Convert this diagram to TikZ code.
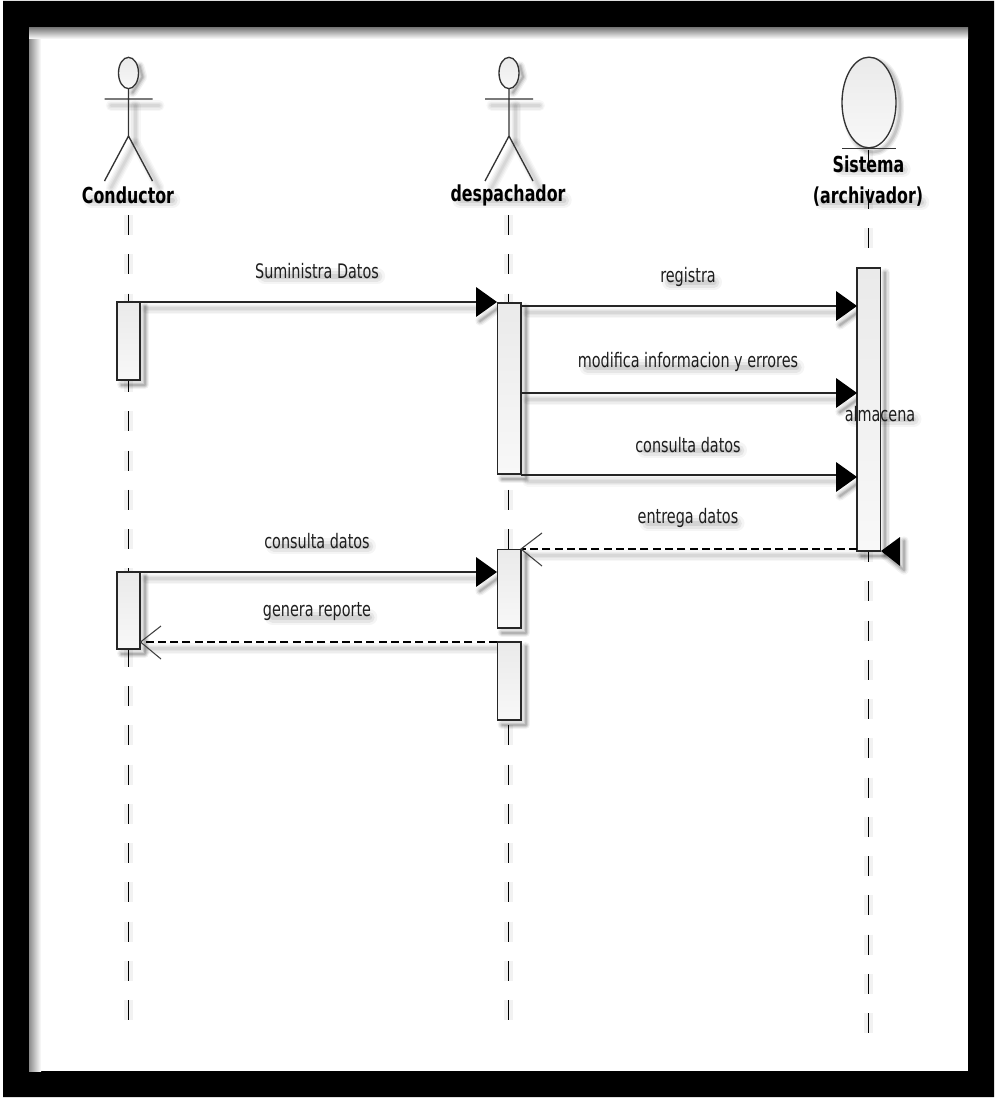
\documentclass[tikz,border=0pt]{standalone}
\usepackage{fontspec}
\usetikzlibrary{backgrounds,calc,shapes.geometric}
\newfontfamily\lbfont[FakeStretch=0.72]{DejaVu Sans}
\definecolor{inklabel}{HTML}{1E1E1E}
\definecolor{boxtop}{HTML}{EAEAEA}
\definecolor{boxbot}{HTML}{F8F8F8}
% faint soft shadow of a line, on the background layer
\newcommand{\softshad}[2][3pt]{%
  \begin{scope}[on background layer]
  \begin{scope}[transform canvas={shift={(#1,-#1)}}]
    \foreach \w/\o in {8pt/.03,6pt/.04,4pt/.04,2pt/.05}{
      \path[draw=black,opacity=\o,line width=\w,line cap=round,line join=round] #2;
    }
  \end{scope}
  \end{scope}}
% stronger shadow of a bar or an arrowhead
\newcommand{\barshad}[2][3pt]{%
  \begin{scope}[on background layer]
  \begin{scope}[transform canvas={shift={(#1,-#1)}}]
    \foreach \w/\o in {7pt/.05,5pt/.07,3pt/.09,1.5pt/.12}{
      \path[draw=black,opacity=\o,line width=\w,line cap=round,line join=round] #2;
    }
  \end{scope}
  \end{scope}}
% activation box
\newcommand{\actbox}[5]{%
  \node[actbar,minimum width=#4*0.75pt-#2*0.75pt,minimum height=#5*0.75pt-#3*0.75pt] (#1) at ({(#2+#4)/2},{(#3+#5)/2}) {};
  \barshad[3.5pt]{(#1.north east) -- (#1.south east) -- (#1.south west)}}
% label with its shadow
\newcommand{\msglabel}[4][msgtext]{%
  \node[#1] (#2) at (#3) {#4};
  \begin{scope}[on background layer]
  \begin{scope}[transform canvas={shift={(3pt,-4pt)}}]
    \foreach \w/\o in {12pt/.04,8pt/.06,4pt/.08}{
      \path[draw=black,opacity=\o,line width=\w,line cap=round] ($(#2.west)+(6,0)$) -- ($(#2.east)+(-6,0)$);
    }
  \end{scope}
  \end{scope}}
\tikzset{
  x=0.75pt,y=-0.75pt,
  msgtext/.style={inner sep=0pt,text=inklabel,font=\lbfont\fontsize{15pt}{17pt}\selectfont},
  actortext/.style={inner sep=0pt,text=black,font=\lbfont\bfseries\fontsize{16.5pt}{18pt}\selectfont},
  actbar/.style={draw=black!85,line width=1.1pt,top color=boxtop,bottom color=boxbot,inner sep=0pt,outer sep=0pt,rectangle},
  headshape/.style={draw=black!80,line width=1pt,ellipse,top color=boxtop,bottom color=boxbot,inner sep=0pt,outer sep=0pt},
  stick/.style={draw=black!80,line width=1pt},
  lifeline/.style={draw=black,line width=1pt,dash pattern=on 15pt off 14.44pt},
  msgline/.style={draw=black!85,line width=1.5pt},
  retline/.style={draw=black,line width=1.2pt,dash pattern=on 6pt off 3.2pt},
  filltip/.style={fill=black,draw=none},
  opentip/.style={draw=black!75,line width=.8pt},
}
\begin{document}
\begin{tikzpicture}
\useasboundingbox (0,0) rectangle (995,1099);

% frame
\begin{scope}[on background layer]
  \fill[white] (0,0) rectangle (995,1099);
  \fill[black,even odd rule] (3,1) rectangle (994,1097) (29,28) rectangle (968,1071);
  \shade[left color=black!45,right color=white] (29,28) rectangle (41,1071);
  \shade[top color=black!50,bottom color=white] (29,28) rectangle (968,39);
\end{scope}

% lifelines
\coordinate (lc0) at (128.5,215);  \coordinate (lc1) at (128.5,1023);
\coordinate (ld0) at (508.5,215);  \coordinate (ld1) at (508.5,1023);
\coordinate (ls0) at (868.5,149.5);\coordinate (ls1) at (868.5,1034);
\draw[lifeline] (lc0) -- (lc1);
\draw[lifeline] (ld0) -- (ld1);
\draw[lifeline] (ls0) -- (ls1);
\begin{scope}[on background layer,transform canvas={shift={(5pt,-2pt)}}]
  \draw[lifeline,draw=black,opacity=.05,line width=7pt] (lc0) -- (lc1);
  \draw[lifeline,draw=black,opacity=.05,line width=7pt] (ld0) -- (ld1);
  \draw[lifeline,draw=black,opacity=.05,line width=7pt] (ls0) -- (ls1);
\end{scope}

% actor Conductor
\node[headshape,minimum width=15pt,minimum height=23.5pt] (hc) at (128.5,73) {};
\coordinate (cl) at (104.5,99); \coordinate (cr) at (152.5,99);
\coordinate (cs) at (128.5,99); \coordinate (ch) at (128.5,136); \coordinate (cfl) at (104.5,181); \coordinate (cfr) at (152.5,181);
\draw[stick] (hc.south) -- (ch) (cl) -- (cr) (cfl) -- (ch) -- (cfr);
\barshad[3pt]{(hc.north east) -- (hc.east) -- (hc.south)}
\softshad[5pt]{(cl) -- (cr)}
\softshad[5pt]{(cs) -- (ch)}
\softshad[5pt]{(cfl) -- (ch) -- (cfr)}

% actor despachador
\node[headshape,minimum width=15pt,minimum height=23.5pt] (hd) at (509,73) {};
\coordinate (dl) at (485,99); \coordinate (dr) at (533,99);
\coordinate (ds) at (509,99); \coordinate (dh) at (509,136); \coordinate (dfl) at (485,181); \coordinate (dfr) at (533,181);
\draw[stick] (hd.south) -- (dh) (dl) -- (dr) (dfl) -- (dh) -- (dfr);
\barshad[3pt]{(hd.north east) -- (hd.east) -- (hd.south)}
\softshad[5pt]{(dl) -- (dr)}
\softshad[5pt]{(ds) -- (dh)}
\softshad[5pt]{(dfl) -- (dh) -- (dfr)}

% entity Sistema
\node[headshape,minimum width=40.5pt,minimum height=68pt] (hs) at (869,102.5) {};
\coordinate (sl) at (842,148.5); \coordinate (sr) at (896,148.5);
\draw[stick] (sl) -- (sr);
\begin{scope}[on background layer]
  \begin{scope}[transform canvas={shift={(3pt,-3pt)}}]
    \foreach \w/\o in {6pt/.06,4pt/.08,2pt/.1}{
      \path[draw=black,opacity=\o,line width=\w] (869,102.5) ellipse [x radius=27,y radius=45.5];
    }
  \end{scope}
\end{scope}

% activation bars
\actbox{c1}{117}{302}{140}{380}
\actbox{c2}{117}{572}{140}{649}
\actbox{d1}{497.5}{303}{521}{474}
\actbox{d2}{497.5}{549.5}{521}{628}
\actbox{d3}{497.5}{642}{521}{720}
\actbox{s1}{857}{268}{880.5}{551}

% message end points
\coordinate (m1a) at (140,302);   \coordinate (m1b) at (476,302);    \coordinate (m1t) at (497,302);
\coordinate (m2a) at (521,306);   \coordinate (m2b) at (836,306);    \coordinate (m2t) at (857,306);
\coordinate (m3a) at (521,393);   \coordinate (m3b) at (836,393);    \coordinate (m3t) at (857,393);
\coordinate (m4a) at (521,474.5); \coordinate (m4b) at (836,477);    \coordinate (m4t) at (857,477);
\coordinate (m6a) at (140,572);   \coordinate (m6b) at (476,572);    \coordinate (m6t) at (497,572);
\coordinate (m4c) at (836,474.5);

\draw[msgline] (m1a) -- (m1b);
\draw[msgline] (m2a) -- (m2b);
\draw[msgline] (m3a) -- (m3b);
\draw[msgline] (m4a) -- (m4c);
\draw[msgline] (m6a) -- (m6b);
\softshad[5pt]{(m1a) -- (m1b)}
\softshad[5pt]{(m2a) -- (m2b)}
\softshad[5pt]{(m3a) -- (m3b)}
\softshad[5pt]{(m4a) -- (m4c)}
\softshad[5pt]{(m6a) -- (m6b)}
\foreach \p in {m1,m2,m3,m4,m6}{
  \fill[filltip] (\p t) -- ($(\p b)+(0,-15)$) -- ($(\p b)+(0,15)$) -- cycle;
  \barshad[3pt]{($(\p b)+(0,15)$) -- (\p t)}
}

% return messages
\coordinate (r1a) at (857,549); \coordinate (r1b) at (521,549);
\coordinate (r1u) at (542,533); \coordinate (r1d) at (542,566);
\draw[retline] (r1a) -- (r1b);
\draw[opentip] (r1u) -- (r1b) -- (r1d);
\softshad[5pt]{(r1a) -- (r1b)}

\coordinate (r2a) at (497,642); \coordinate (r2b) at (140.5,642);
\coordinate (r2u) at (161,626); \coordinate (r2d) at (161,659);
\draw[retline] (r2a) -- (r2b);
\draw[opentip] (r2u) -- (r2b) -- (r2d);
\softshad[5pt]{(r2a) -- (r2b)}

% the head at the foot of the Sistema bar
\coordinate (s1t) at (881,551); \coordinate (s1u) at (900,537); \coordinate (s1d) at (900,566);
\fill[filltip] (s1t) -- (s1u) -- (s1d) -- cycle;
\barshad[3pt]{(s1t) -- (s1d) -- (s1u)}

% actor names
\msglabel[actortext]{nc}{128,195}{Conductor}
\msglabel[actortext]{nd}{508,195}{despachador}
\msglabel[actortext]{ns1}{868.5,164}{Sistema}
\msglabel[actortext]{ns2}{868,197}{(archivador)}

% message labels
\msglabel{t1}{317,271}{Suministra Datos}
\msglabel{t2}{688,277}{registra}
\msglabel{t3}{688,362}{modifica informacion y errores}
\msglabel{t4}{688,445}{consulta datos}
\msglabel{t5}{688,518}{entrega datos}
\msglabel{t6}{317,541}{consulta datos}
\msglabel{t7}{317,612}{genera reporte}
\msglabel{t8}{880,414}{almacena}
\end{tikzpicture}
\end{document}
